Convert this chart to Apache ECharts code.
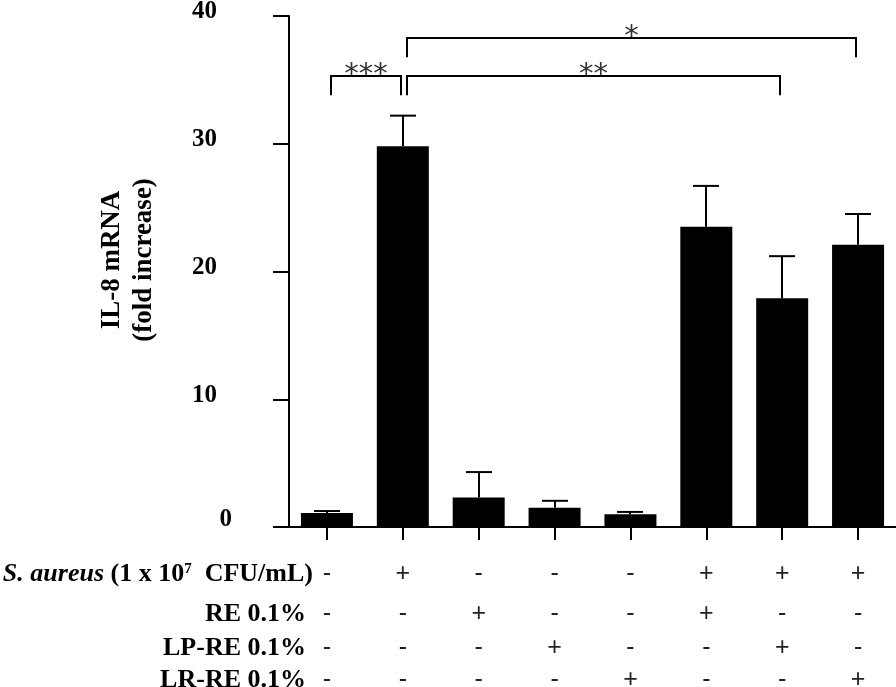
<!DOCTYPE html>
<html><head><meta charset="utf-8">
<script src="https://cdn.jsdelivr.net/npm/echarts@6/dist/echarts.min.js"></script>
<style>html,body{margin:0;padding:0;background:#fff}#c{width:896px;height:687px}</style>
</head><body><div id="c"></div>
<script>
// ---- data ----
const categories = ['Control', 'S. aureus', 'RE', 'LP-RE', 'LR-RE', 'S. aureus + RE', 'S. aureus + LP-RE', 'S. aureus + LR-RE'];
const il8Mean = [1.1, 29.8, 2.3, 1.5, 1.0, 23.5, 17.9, 22.1];
const il8Err  = [0.15, 2.4, 2.0, 0.55, 0.18, 3.2, 3.3, 2.4];
const rowSAureus = ['-', '+', '-', '-', '-', '+', '+', '+'];
const rowRE      = ['-', '-', '+', '-', '-', '+', '-', '-'];
const rowLPRE    = ['-', '-', '-', '+', '-', '-', '+', '-'];
const rowLRRE    = ['-', '-', '-', '-', '+', '-', '-', '+'];
const yTicks = [0, 10, 20, 30, 40];
const bracketFrom  = [0, 1, 1];
const bracketTo    = [1, 6, 7];
const bracketLevel = [35.3, 35.3, 38.3];
const bracketDrop  = [1.5, 1.5, 1.5];
const bracketMark  = ['***', '**', '*'];
const yTitle = 'IL-8 mRNA\n(fold increase)';

// ---- chart ----
const SERIF = '"Liberation Serif", "Times New Roman", serif';
const chart = echarts.init(document.getElementById('c'), null, {renderer: 'canvas'});

const signStyle = (lh) => ({lineHeight: lh, fontFamily: '"Liberation Sans", Arial, sans-serif', fontSize: 25, color: '#222'});

const option = {
  animation: false,
  backgroundColor: '#fff',
  grid: {left: 289, right: 0, top: 16, bottom: 160, containLabel: false, outerBoundsMode: 'none'},
  xAxis: {
    type: 'category',
    data: categories,
    axisLine: {show: true, lineStyle: {color: '#000', width: 2}},
    axisTick: {show: true, alignWithLabel: true, length: 13, lineStyle: {color: '#000', width: 2}},
    splitLine: {show: false},
    axisLabel: {
      interval: 0,
      margin: 27,
      formatter: (v, i) => `{r1|${rowSAureus[i]}}\n{r2|${rowRE[i]}}\n{r3|${rowLPRE[i]}}\n{r4|${rowLRRE[i]}}`,
      rich: {r1: signStyle(40), r2: signStyle(40), r3: signStyle(28), r4: signStyle(36)}
    }
  },
  yAxis: {
    type: 'value',
    min: yTicks[0],
    max: yTicks[yTicks.length - 1],
    interval: yTicks[1] - yTicks[0],
    axisLine: {show: true, lineStyle: {color: '#000', width: 2}},
    axisTick: {show: true, length: 16, lineStyle: {color: '#000', width: 2}},
    splitLine: {show: false},
    axisLabel: {
      margin: 57,
      formatter: v => v === 0 ? '{z|0}' : '{n|' + v + '}',
      rich: {
        n: {fontFamily: SERIF, fontWeight: 'bold', fontSize: 25, color: '#000', padding: [0, 15, 8, 0]},
        z: {fontFamily: SERIF, fontWeight: 'bold', fontSize: 25, color: '#000', padding: [0, 0, 14, 0]}
      }
    }
  },
  graphic: [
    {
      type: 'text', x: 128, y: 260, rotation: Math.PI / 2,
      style: {text: yTitle, font: 'bold 27px ' + SERIF, fill: '#000', align: 'center', textAlign: 'center',
              verticalAlign: 'middle', textVerticalAlign: 'middle', lineHeight: 32}
    },
    {
      type: 'text', x: 313, y: 574,
      style: {
        text: '{i|S. aureus}{b| (1 x 10}{s|7}{b|  CFU/mL)}',
        align: 'right', textAlign: 'right', verticalAlign: 'middle', textVerticalAlign: 'middle',
        rich: {
          i: {fontFamily: SERIF, fontWeight: 'bold', fontStyle: 'italic', fontSize: 26, fill: '#000', color: '#000'},
          b: {fontFamily: SERIF, fontWeight: 'bold', fontSize: 26, fill: '#000', color: '#000'},
          s: {fontFamily: SERIF, fontWeight: 'bold', fontSize: 15, fill: '#000', color: '#000', padding: [0, 0, 10, 0]}
        }
      }
    },
    {type: 'text', x: 306, y: 614, style: {text: 'RE 0.1%', font: 'bold 26px ' + SERIF, fill: '#000', align: 'right', textAlign: 'right', verticalAlign: 'middle', textVerticalAlign: 'middle'}},
    {type: 'text', x: 306, y: 648, style: {text: 'LP-RE 0.1%', font: 'bold 26px ' + SERIF, fill: '#000', align: 'right', textAlign: 'right', verticalAlign: 'middle', textVerticalAlign: 'middle'}},
    {type: 'text', x: 306, y: 680, style: {text: 'LR-RE 0.1%', font: 'bold 26px ' + SERIF, fill: '#000', align: 'right', textAlign: 'right', verticalAlign: 'middle', textVerticalAlign: 'middle'}}
  ],
  series: [
    {
      type: 'bar',
      data: il8Mean,
      barWidth: 52,
      itemStyle: {color: '#000'},
      z: 2
    },
    {
      type: 'custom',
      z: 3,
      data: il8Mean.map((v, i) => [i, v, il8Err[i]]),
      renderItem: (params, api) => {
        const base = api.coord([api.value(0), api.value(1)]);
        const top = api.coord([api.value(0), api.value(1) + api.value(2)]);
        const x = Math.round(base[0]);
        const st = {stroke: '#000', lineWidth: 2, fill: null};
        return {type: 'group', children: [
          {type: 'line', shape: {x1: x, y1: base[1], x2: x, y2: top[1]}, style: st},
          {type: 'line', shape: {x1: x - 13, y1: top[1], x2: x + 13, y2: top[1]}, style: st}
        ]};
      }
    },
    {
      type: 'custom',
      z: 3,
      data: bracketFrom.map((f, i) => [f, bracketTo[i], bracketLevel[i], bracketDrop[i]]),
      encode: {x: [0, 1], y: [2]},
      renderItem: (params, api) => {
        const a = api.coord([api.value(0), api.value(2)]);
        const b = api.coord([api.value(1), api.value(2)]);
        const drop = api.size([0, api.value(3)])[1];
        const x1 = Math.round(a[0]) + 4, x2 = Math.round(b[0]) - 2, y = Math.round(a[1]);
        return {type: 'group', children: [
          {type: 'polyline', shape: {points: [[x1, y + drop], [x1, y], [x2, y], [x2, y + drop]]},
           style: {stroke: '#000', lineWidth: 2, fill: null}},
          {type: 'text', style: {text: bracketMark[params.dataIndex], x: (x1 + x2) / 2, y: y - 1,
            align: 'center', textAlign: 'center', verticalAlign: 'middle', textVerticalAlign: 'middle',
            font: '29px "DejaVu Sans", sans-serif', fill: '#333'}}
        ]};
      }
    }
  ]
};
chart.setOption(option);
</script>
</body></html>
